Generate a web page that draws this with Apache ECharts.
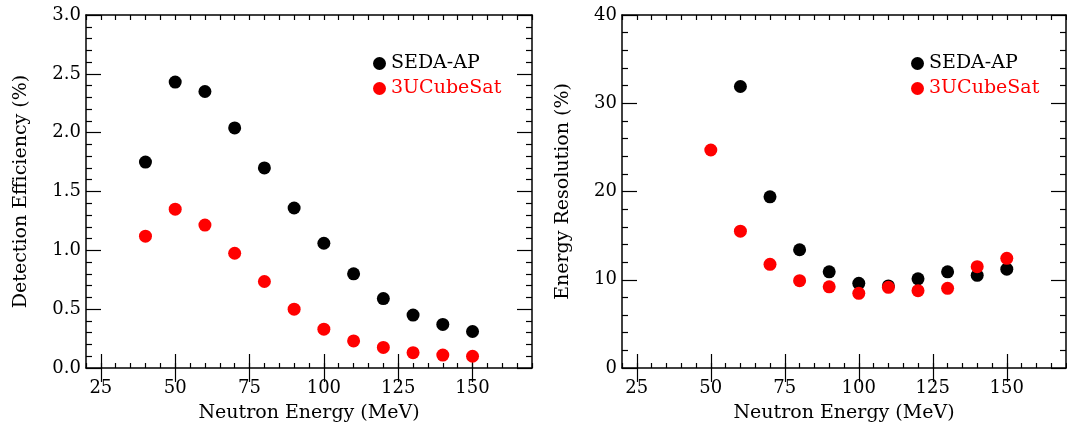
<!DOCTYPE html>
<html>
<head>
<meta charset="utf-8">
<script src="https://cdn.jsdelivr.net/npm/echarts@6/dist/echarts.min.js"></script>
<style>
  html, body { margin: 0; padding: 0; background: #fff; }
  #chart { width: 1067px; height: 430px; }
</style>
</head>
<body>
<div id="chart"></div>
<script>
// neutron energies (MeV)
const effEnergy = [40, 50, 60, 70, 80, 90, 100, 110, 120, 130, 140, 150]
const sedaEff = [1.75, 2.43, 2.35, 2.04, 1.70, 1.36, 1.06, 0.80, 0.59, 0.45, 0.37, 0.31]
const cubeEff = [1.12, 1.35, 1.215, 0.975, 0.735, 0.50, 0.33, 0.23, 0.175, 0.13, 0.11, 0.10]

const sedaResEnergy = [60, 70, 80, 90, 100, 110, 120, 130, 140, 150]
const sedaRes = [31.9, 19.4, 13.4, 10.9, 9.6, 9.3, 10.1, 10.9, 10.5, 11.2]
const cubeResEnergy = [50, 60, 70, 80, 90, 100, 110, 120, 130, 140, 150]
const cubeRes = [24.7, 15.5, 11.75, 9.9, 9.2, 8.46, 9.14, 8.76, 9.03, 11.48, 12.43]

const xTicks = [25, 50, 75, 100, 125, 150]
const seriesNames = ['SEDA-AP', '3UCubeSat']

const font = 'DejaVu Serif'
const black = '#000'
const red = '#ff0000'

const chart = echarts.init(document.getElementById('chart'))

const grids = [
  { left: 86, top: 15, width: 446, height: 353 },
  { left: 622, top: 15, width: 444, height: 353 }
]

function pair(arrX, arrY) {
  return arrX.map((x, i) => [x, arrY[i]])
}

// four x axes per grid: minor/major ticks on bottom and top
function xAxesFor(g) {
  const base = {
    gridIndex: g,
    type: 'value',
    min: 20,
    max: 170,
    splitLine: { show: false },
    axisLine: { show: false },
    axisLabel: { show: false }
  }
  return [
    Object.assign({}, base, {
      position: 'bottom',
      interval: 5,
      axisLine: { show: true, onZero: false, lineStyle: { color: black, width: 1.5 } },
      axisTick: { inside: true, length: 5, lineStyle: { color: black, width: 1.2 } }
    }),
    Object.assign({}, base, {
      position: 'bottom',
      name: 'Neutron Energy (MeV)',
      nameLocation: 'middle',
      nameGap: 36,
      nameTextStyle: { fontFamily: font, fontSize: 19, color: black },
      axisTick: { inside: true, length: 14, customValues: xTicks, lineStyle: { color: black, width: 1.2 } },
      axisLabel: { show: true, customValues: xTicks, margin: 11, fontFamily: font, fontSize: 18, color: black }
    }),
    Object.assign({}, base, {
      position: 'top',
      interval: 5,
      axisLine: { show: true, onZero: false, lineStyle: { color: black, width: 1.5 } },
      axisTick: { inside: true, length: 5, lineStyle: { color: black, width: 1.2 } }
    }),
    Object.assign({}, base, {
      position: 'top',
      axisTick: { inside: true, length: 14, customValues: xTicks, lineStyle: { color: black, width: 1.2 } }
    })
  ]
}

function yAxesFor(g, max, interval, name, nameGap) {
  const base = {
    gridIndex: g,
    type: 'value',
    min: 0,
    max: max,
    interval: interval,
    splitLine: { show: false },
    axisLine: { show: true, onZero: false, lineStyle: { color: black, width: 1.5 } },
    axisTick: { inside: true, length: 15, lineStyle: { color: black, width: 1.2 } },
    minorTick: { show: true, splitNumber: 5, length: 6, lineStyle: { color: black, width: 1.2 } }
  }
  return [
    Object.assign({}, base, {
      position: 'left',
      name: name,
      nameLocation: 'middle',
      nameGap: nameGap,
      nameTextStyle: { fontFamily: font, fontSize: 19, color: black },
      axisLabel: {
        margin: 5, fontFamily: font, fontSize: 18, color: black,
        formatter: v => (interval < 1 ? v.toFixed(1) : String(v))
      }
    }),
    Object.assign({}, base, {
      position: 'right',
      axisLabel: { show: false }
    })
  ]
}

function legendFor(left) {
  return {
    orient: 'vertical',
    left: left,
    top: 54,
    padding: 0,
    itemWidth: 13,
    itemHeight: 13,
    itemGap: 6,
    icon: 'circle',
    selectedMode: false,
    textStyle: { fontFamily: font, fontSize: 19 },
    data: [
      { name: seriesNames[0], textStyle: { color: black } },
      { name: seriesNames[1], textStyle: { color: red } }
    ]
  }
}

function scatter(name, color, xi, yi, data) {
  return {
    name: name,
    type: 'scatter',
    xAxisIndex: xi,
    yAxisIndex: yi,
    symbol: 'circle',
    symbolSize: 13,
    itemStyle: { color: color, opacity: 1 },
    data: data
  }
}

chart.setOption({
  animation: false,
  backgroundColor: '#fff',
  grid: grids,
  legend: [legendFor(373), legendFor(911)],
  xAxis: xAxesFor(0).concat(xAxesFor(1)),
  yAxis: yAxesFor(0, 3, 0.5, 'Detection Efficiency (%)', 55)
    .concat(yAxesFor(1, 40, 10, 'Energy Resolution (%)', 49)),
  series: [
    scatter(seriesNames[0], black, 1, 0, pair(effEnergy, sedaEff)),
    scatter(seriesNames[1], red, 1, 0, pair(effEnergy, cubeEff)),
    scatter(seriesNames[0], black, 5, 2, pair(sedaResEnergy, sedaRes)),
    scatter(seriesNames[1], red, 5, 2, pair(cubeResEnergy, cubeRes))
  ]
})
</script>
</body>
</html>
